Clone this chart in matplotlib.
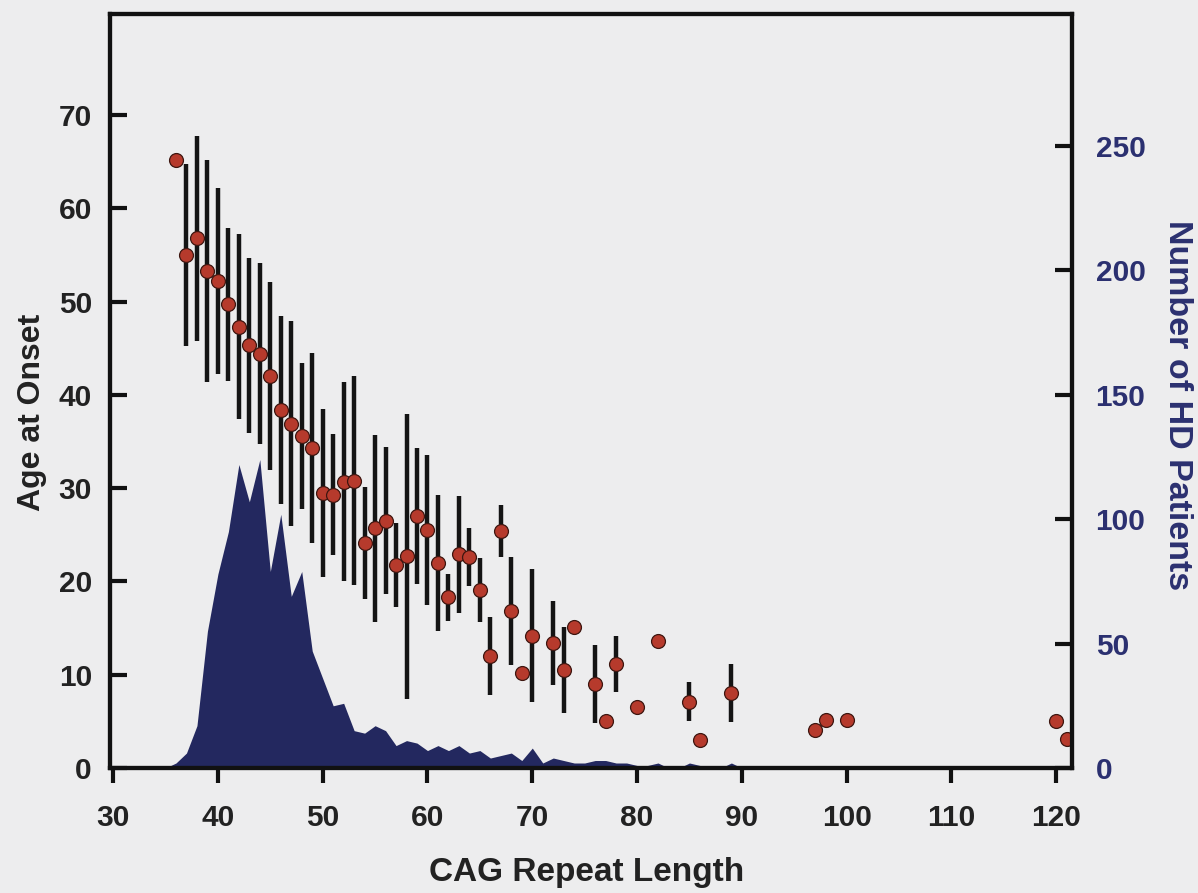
import numpy as np
import matplotlib.pyplot as plt

# mean age at onset (+/- SD) for each CAG repeat length
cag = [36, 37, 38, 39, 40, 41, 42, 43, 44, 45, 46, 47, 48, 49, 50, 51, 52, 53,
       54, 55, 56, 57, 58, 59, 60, 61, 62, 63, 64, 65, 66, 67, 68, 69, 70, 72,
       73, 74, 76, 77, 78, 80, 82, 85, 86, 89, 97, 98, 100, 120, 121]
onset_mean = [65.2, 55.0, 56.8, 53.3, 52.2, 49.7, 47.3, 45.3, 44.4, 42.0, 38.4,
              36.9, 35.6, 34.3, 29.5, 29.3, 30.7, 30.8, 24.1, 25.7, 26.5, 21.8,
              22.7, 27.0, 25.5, 22.0, 18.3, 22.9, 22.6, 19.1, 12.0, 25.4, 16.8,
              10.2, 14.2, 13.4, 10.5, 15.1, 9.0, 5.0, 11.1, 6.5, 13.6, 7.1, 3.0,
              8.0, 4.1, 5.1, 5.1, 5.0, 3.1]
onset_sd = [0, 9.8, 11.0, 11.9, 10.0, 8.2, 9.9, 9.4, 9.7, 10.1, 10.1,
            11.0, 7.8, 10.2, 9.0, 6.5, 10.7, 11.2, 6.0, 10.0, 7.9, 4.5,
            15.3, 7.3, 8.0, 7.3, 2.5, 6.3, 3.1, 3.4, 4.2, 2.8, 5.8,
            0, 7.1, 4.5, 4.6, 0, 4.2, 0, 3.0, 0, 0, 2.1, 0,
            3.1, 0, 0, 0, 0, 0]

# number of HD patients per repeat length (35..121)
cag_hist = list(range(35, 122))
n_patients = [0, 2, 6, 17, 55, 78, 95, 122, 107, 124,      # 35-44
              79, 102, 69, 79, 47, 36, 25, 26, 15, 14,     # 45-54
              17, 15, 9, 11, 10, 7, 9, 7, 9, 6,            # 55-64
              7, 4, 5, 6, 3, 8, 2, 4, 3, 2,                # 65-74
              2, 3, 3, 2, 2, 1, 1, 2, 0, 0,                # 75-84
              2, 1, 0, 0, 2, 0, 0, 0, 0, 0,                # 85-94
              0, 0, 1, 1, 0, 1, 0, 0, 0, 0,                # 95-104
              0, 0, 0, 0, 0, 0, 0, 0, 0, 0,                # 105-114
              0, 0, 0, 0, 0, 1, 1]                         # 115-121

bg = '#ededee'
navy = '#23285f'
font = 'Liberation Sans'

fig = plt.figure(figsize=(11.98, 8.93), dpi=100, facecolor=bg)
ax = fig.add_axes([0.0918, 0.140, 0.803, 0.844])
ax2 = ax.twinx()
ax.set_zorder(ax2.get_zorder() + 1)
ax.patch.set_visible(False)
ax2.set_facecolor(bg)

# patient distribution (right axis)
ax2.fill_between(cag_hist, n_patients, 0, color=navy, lw=0)
ax2.set_ylim(0, 303)
ax2.set_yticks([0, 50, 100, 150, 200, 250])

# onset means with SD bars (left axis)
ax.errorbar(cag, onset_mean, yerr=onset_sd, fmt='o', ms=10,
            mfc='#b63a2c', mec='#3e1610', mew=0.9, ecolor='#141414',
            elinewidth=3.2, capsize=0)
ax.set_xlim(29.7, 121.5)
ax.set_ylim(0, 80.8)
ax.set_xticks(range(30, 121, 10))
ax.set_yticks(range(0, 71, 10))

for a in (ax, ax2):
    for s in a.spines.values():
        s.set_linewidth(3.0)
        s.set_color('#111111')

ax.tick_params(axis='y', direction='in', length=12, width=3, pad=13,
               labelsize=21.5, labelcolor='#222222', color='#111111')
ax.tick_params(axis='x', direction='out', length=11, width=3, pad=15,
               labelsize=21.5, labelcolor='#222222', color='#111111')
ax2.tick_params(axis='y', direction='in', length=12, width=3, pad=17,
                labelsize=21.5, labelcolor='#2b3070', color='#111111')

for lab in ax.get_xticklabels() + ax.get_yticklabels():
    lab.set_fontfamily(font)
    lab.set_fontweight('bold')
for lab in ax2.get_yticklabels():
    lab.set_fontfamily(font)
    lab.set_fontweight('bold')

fig.text(0.4896, 0.0224, 'CAG Repeat Length', fontsize=24, fontweight='bold',
         family=font, color='#222222', ha='center', va='center')
fig.text(0.0263, 0.5386, 'Age at Onset', fontsize=23, fontweight='bold',
         family=font, color='#222222', ha='center', va='center', rotation=90)
fig.text(0.9825, 0.5465, 'Number of HD Patients', fontsize=24.5,
         fontweight='bold', family=font, color='#2b3070',
         ha='center', va='center', rotation=270)

fig.savefig('out.png', dpi=100, facecolor=bg)
